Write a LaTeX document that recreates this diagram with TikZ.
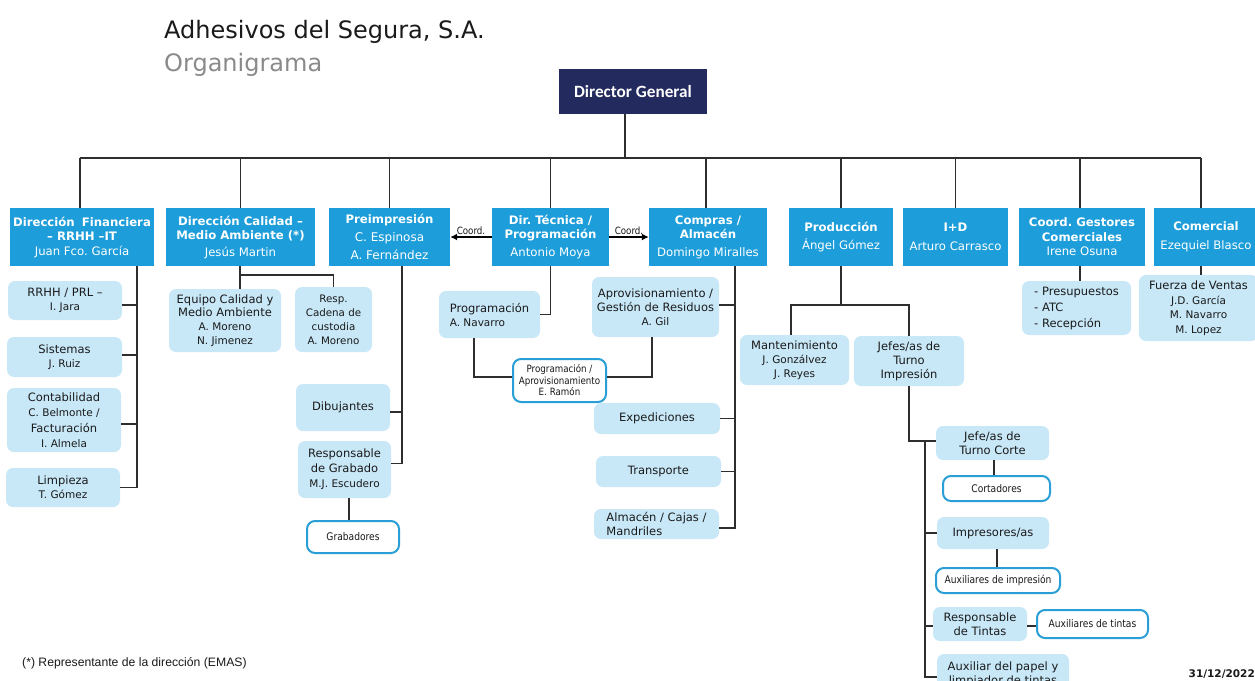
\documentclass[tikz,border=0pt]{standalone}
\usepackage{fontspec}
\setmainfont{DejaVu Sans}
\newfontfamily\calfont{Carlito}
\newfontfamily\arialfont{Liberation Sans}
\newfontfamily\tahoma{DejaVu Sans}[FakeStretch=0.87]
\usetikzlibrary{arrows.meta,calc}
\definecolor{hblue}{HTML}{1D9DD9}
\definecolor{lblue}{HTML}{C8E8F8}
\definecolor{oblue}{HTML}{2A9FD6}
\definecolor{navy}{HTML}{232B5E}
\definecolor{lnc}{HTML}{2E2E2E}
\definecolor{txt}{HTML}{1A1A1A}
\definecolor{graytitle}{HTML}{8A8A8A}
\newcommand\nmf{\fontsize{10.5}{12}\selectfont}
\frenchspacing
\tikzset{
  sz/.style 2 args={minimum width=#1pt, minimum height=#2pt},
  head/.style={fill=hblue, text=white, align=center, inner sep=0pt, font=\fontsize{11.7}{14.5}\selectfont},
  sub/.style={fill=lblue, rounded corners=7pt, text=txt, align=center, inner sep=0pt, font=\fontsize{11.5}{14}\selectfont},
  outl/.style={draw=oblue, line width=2pt, fill=white, rounded corners=8pt, text=txt, align=center, inner sep=0pt, font=\tahoma\fontsize{10.5}{12}\selectfont},
  conn/.style={draw=lnc, line width=1.1pt},
  coordarrow/.style={draw=black, line width=1.3pt, -{Latex[length=7pt,width=7pt]}},
  coordlbl/.style={font=\tahoma\fontsize{10}{12}\selectfont, text=txt, inner sep=1.5pt},
}
\begin{document}
\begin{tikzpicture}[x=1pt,y=-1pt]
\useasboundingbox (0,0) rectangle (1255,680);
\fill[white] (0,0) rectangle (1255,680);

% titles
\node[anchor=base west, inner sep=0pt, font=\fontsize{24}{28}\selectfont, text=txt] (title) at (164,38) {Adhesivos del Segura, S.A.};
\node[anchor=base west, inner sep=0pt, font=\fontsize{24}{28}\selectfont, text=graytitle] (subtitle) at (164,71) {Organigrama};

% director
\node[head, sz={148}{45}, fill=navy, font=\calfont\bfseries\fontsize{17.2}{20}\selectfont] (dg) at (633,91.5) {Director General};

% level 1
\node[head, sz={144}{58}] (fin) at (82,237) {\textbf{Dirección\hspace{0.6em}Financiera}\\\textbf{– RRHH –IT}\\Juan Fco. García};
\node[head, sz={149}{58}] (cal) at (240.5,237) {\textbf{Dirección Calidad –}\\\textbf{Medio Ambiente (*)}\\[2pt]Jesús Martin};
\node[head, sz={121}{58}, font=\fontsize{12}{18}\selectfont] (pre) at (389.5,237) {{\fontsize{11.7}{14}\selectfont\bfseries Preimpresión}\\C. Espinosa\\A. Fernández};
\node[head, sz={117}{58}] (tec) at (550.5,237) {\textbf{Dir. Técnica /}\\\textbf{Programación}\\[3pt]Antonio Moya};
\node[head, sz={118}{58}] (cmp) at (708,237) {\textbf{Compras /}\\\textbf{Almacén}\\[3pt]Domingo Miralles};
\node[head, sz={104}{58}] (pro) at (841,237) {\textbf{Producción}\\[4pt]Ángel Gómez};
\node[head, sz={105}{58}] (imd) at (955.5,237) {\textbf{I+D}\\[4pt]Arturo Carrasco};
\node[head, sz={126}{58}] (ges) at (1082,237) {\textbf{Coord. Gestores}\\\textbf{Comerciales}\\Irene Osuna};
\node[head, sz={104}{58}] (com) at (1206,237) {\textbf{Comercial}\\[4pt]Ezequiel Blasco};

% Financiera
\node[sub, sz={114}{39}] (rrhh) at (65,300.5) {RRHH / PRL –\\{\nmf I. Jara}};
\node[sub, sz={115}{40}] (sis) at (64.5,357) {Sistemas\\{\nmf J. Ruiz}};
\node[sub, sz={114}{64}, font=\fontsize{11.5}{15.5}\selectfont] (cont) at (64,420) {Contabilidad\\{\nmf C. Belmonte /}\\Facturación\\{\nmf I. Almela}};
\node[sub, sz={114}{39}] (limp) at (63,487.5) {Limpieza\\{\nmf T. Gómez}};

% Calidad
\node[sub, sz={112}{63}, font=\fontsize{11.5}{13.7}\selectfont] (eqc) at (225,320.5) {Equipo Calidad y\\Medio Ambiente\\{\nmf A. Moreno}\\{\nmf N. Jimenez}};
\node[sub, sz={77}{65}, font=\fontsize{10.3}{14}\selectfont] (cus) at (333.5,319.5) {Resp.\\Cadena de\\custodia\\A. Moreno};

% Preimpresion
\node[sub, sz={94}{47}] (dib) at (343,407.5) {Dibujantes};
\node[sub, sz={93}{57}, font=\fontsize{11.5}{15}\selectfont] (rgr) at (344.5,469.5) {Responsable\\de Grabado\\{\nmf M.J. Escudero}};
\node[outl, sz={92}{32}] (grab) at (353,537) {Grabadores};

% Dir Tecnica
\node[sub, sz={101}{47}, align=left] (pnav) at (489.5,314.5) {Programación\\{\nmf A. Navarro}};
\node[outl, sz={93}{43}, font=\tahoma\fontsize{10}{11.5}\selectfont] (ramon) at (559.5,380.5) {Programación /\\Aprovisionamiento\\E. Ramón};

% Compras
\node[sub, sz={127}{60}] (agil) at (655.5,307) {Aprovisionamiento /\\Gestión de Residuos\\{\nmf A. Gil}};
\node[sub, sz={126}{31}] (exp) at (657,418.5) {Expediciones};
\node[sub, sz={125}{31}] (tra) at (658.5,471.5) {Transporte};
\node[sub, sz={125}{30}, align=left] (alm) at (656.5,524) {Almacén / Cajas /\\Mandriles};

% Produccion
\node[sub, sz={109}{50}] (mant) at (794.5,360) {Mantenimiento\\{\nmf J. Gonzálvez}\\{\nmf J. Reyes}};
\node[sub, sz={110}{50}] (jti) at (909,361) {Jefes/as de\\Turno\\Impresión};
\node[sub, sz={113}{34}] (jtc) at (992.5,443) {Jefe/as de\\Turno Corte};
\node[outl, sz={107}{25}] (cort) at (996.5,488.5) {Cortadores};
\node[sub, sz={112}{32}] (imp) at (993,533) {Impresores/as};
\node[outl, sz={124}{25}] (auxi) at (998,580.5) {Auxiliares de impresión};
\node[sub, sz={94}{34}] (rtin) at (980,624) {Responsable\\de Tintas};
\node[outl, sz={111}{28}] (auxt) at (1092.5,624) {Auxiliares de tintas};
\node[sub, sz={132}{40}] (apap) at (1003,674) {Auxiliar del papel y\\limpiador de tintas};

% Gestores / Comercial
\node[sub, sz={109}{54}, align=left, font=\fontsize{11.5}{16}\selectfont] (pres) at (1076.5,308) {- Presupuestos\\- ATC\\- Recepción};
\node[sub, sz={119}{66}, font=\fontsize{11.5}{14.5}\selectfont] (fza) at (1198.5,308) {Fuerza de Ventas\\{\nmf J.D. García}\\{\nmf M. Navarro}\\{\nmf M. Lopez}};

% footnote and date
\node[anchor=base west, inner sep=0pt, font=\arialfont\fontsize{12.2}{14}\selectfont, text=txt] (fn) at (22,666) {(*) Representante de la dirección (EMAS)};
\node[anchor=base east, inner sep=0pt, font=\bfseries\fontsize{10.5}{12}\selectfont, text=txt] (date) at (1255,677) {31/12/2022};

% ---- connectors ----
\coordinate (busy) at (0,158);
\draw[conn] ([xshift=-8pt]dg.south) -- ([xshift=-8pt]dg.south |- busy);
\draw[conn] ([xshift=-2pt]fin.north |- busy) -- ([xshift=-5pt]com.north |- busy);
\draw[conn] ([xshift=-2pt]fin.north) -- ([xshift=-2pt]fin.north |- busy);
\foreach \n in {cal,pre,tec,pro,imd}
  \draw[conn] (\n.north) -- (\n.north |- busy);
\draw[conn] ([xshift=-2pt]cmp.north) -- ([xshift=-2pt]cmp.north |- busy);
\draw[conn] ([xshift=-2pt]ges.north) -- ([xshift=-2pt]ges.north |- busy);
\draw[conn] ([xshift=-5pt]com.north) -- ([xshift=-5pt]com.north |- busy);

% Financiera
\coordinate (fx) at (137,0);
\draw[conn] (fin.south -| fx) |- (limp.east);
\draw[conn] ([yshift=-4.5pt]rrhh.east) -- ([yshift=-4.5pt]rrhh.east -| fx);
\draw[conn] ([yshift=2pt]sis.east) -- ([yshift=2pt]sis.east -| fx);
\draw[conn] ([yshift=-4pt]cont.east) -- ([yshift=-4pt]cont.east -| fx);

% Calidad
\coordinate (caly) at (0,275);
\draw[conn] ([xshift=-0.5pt]cal.south) -- ([xshift=-0.5pt]cal.south |- eqc.north);
\draw[conn] ([xshift=-0.5pt]cal.south |- caly) -| (cus.north);

% Preimpresion
\coordinate (px) at (402,0);
\draw[conn] (pre.south -| px) |- ([yshift=6pt]rgr.east);
\draw[conn] ([yshift=-4.5pt]dib.east) -- ([yshift=-4.5pt]dib.east -| px);
\draw[conn] ([xshift=4.5pt]rgr.south) -- ([xshift=4.5pt]rgr.south |- grab.north);

% Dir Tecnica
\draw[conn] (tec.south) |- (pnav.east);
\draw[conn] ([xshift=-15.5pt]pnav.south) |- ([yshift=3.5pt]ramon.west);
\draw[conn] ([xshift=-3.5pt]agil.south) |- ([yshift=3.5pt]ramon.east);
\draw[coordarrow] (tec.west) -- (pre.east) node[midway, above, coordlbl] {Coord.};
\draw[coordarrow] (tec.east) -- (cmp.west) node[midway, above, coordlbl] {Coord.};

% Compras
\coordinate (cx) at (735,0);
\draw[conn] (cmp.south -| cx) |- ([yshift=-4pt]alm.east);
\draw[conn] ([yshift=2pt]agil.east) -- ([yshift=2pt]agil.east -| cx);
\draw[conn] (exp.east) -- (exp.east -| cx);
\draw[conn] (tra.east) -- (tra.east -| cx);

% Produccion
\coordinate (py) at (0,305);
\draw[conn] (pro.south) -- (pro.south |- py);
\draw[conn] ([xshift=-3.5pt]mant.north) |- (jti.north |- py) -- (jti.north);
\draw[conn] (jti.south) |- ([yshift=2pt]jtc.west);
\coordinate (qx) at (925,0);
\draw[conn] ([yshift=2pt]jtc.west -| qx) |- ([yshift=-3pt]apap.west);
\draw[conn] (imp.west) -- (imp.west -| qx);
\draw[conn] ([yshift=-2pt]rtin.west) -- ([yshift=-2pt]rtin.west -| qx);
\draw[conn] ([xshift=1.5pt]jtc.south) -- ([xshift=1.5pt]jtc.south |- cort.north);
\draw[conn] ([xshift=4pt]imp.south) -- ([xshift=4pt]imp.south |- auxi.north);
\draw[conn] ([yshift=-2pt]rtin.east) -- ([yshift=-2pt]rtin.east -| auxt.west);

% Gestores / Comercial
\draw[conn] ([xshift=-2pt]ges.south) -- ([xshift=-2pt]ges.south |- pres.north);
\draw[conn] ([xshift=-5pt]com.south) -- ([xshift=-5pt]com.south |- fza.north);
\end{tikzpicture}
\end{document}
